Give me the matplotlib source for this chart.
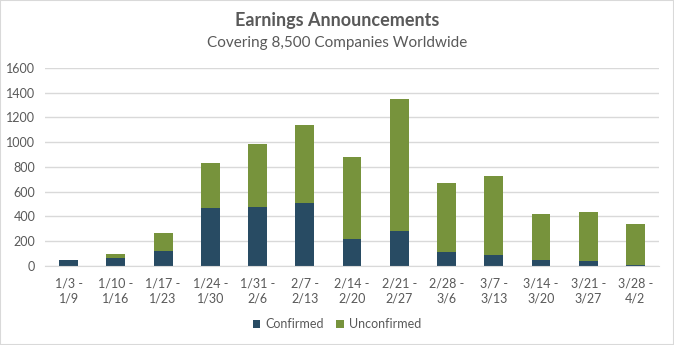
import numpy as np
import matplotlib.pyplot as plt

# data
weeks = ["1/3 -\n1/9", "1/10 -\n1/16", "1/17 -\n1/23", "1/24 -\n1/30", "1/31 -\n2/6",
         "2/7 -\n2/13", "2/14 -\n2/20", "2/21 -\n2/27", "2/28 -\n3/6", "3/7 -\n3/13",
         "3/14 -\n3/20", "3/21 -\n3/27", "3/28 -\n4/2"]
confirmed = [49, 67, 124, 472, 480, 512, 218, 283, 113, 89, 49, 40, 8]
unconfirmed = [0, 33, 146, 361, 507, 629, 664, 1068, 559, 639, 372, 397, 332]

navy = "#284b63"
green = "#77933c"
text_gray = "#595959"
grid_gray = "#d9d9d9"

plt.rcParams["font.family"] = ["Lato", "DejaVu Sans"]

fig = plt.figure(figsize=(6.74, 3.45), dpi=100)
ax = fig.add_axes([0.0668, 0.229, 0.911, 0.574])

index = np.arange(len(weeks))
bar_width = 0.4
ax.bar(index, confirmed, bar_width, color=navy, label="Confirmed", zorder=2)
ax.bar(index, unconfirmed, bar_width, bottom=confirmed, color=green,
       label="Unconfirmed", zorder=2)

ax.set_ylim(0, 1600)
ax.set_xlim(-0.5, len(weeks) - 0.5)
ax.set_yticks(np.arange(0, 1601, 200))
ax.yaxis.grid(True, color=grid_gray, linewidth=1, zorder=0)
ax.set_axisbelow(True)
for s in ["top", "right", "left"]:
    ax.spines[s].set_visible(False)
ax.spines["bottom"].set_color(grid_gray)
ax.tick_params(axis="both", length=0, colors=text_gray, labelsize=9)
ax.tick_params(axis="x", pad=8)
ax.tick_params(axis="y", pad=7)
ax.set_xticks(index)
ax.set_xticklabels(weeks, linespacing=1.3)

fig.text(0.5, 0.94, "Earnings Announcements", ha="center", va="center",
         fontsize=13, fontweight="bold", color=text_gray)
fig.text(0.5, 0.876, "Covering 8,500 Companies Worldwide", ha="center", va="center",
         fontsize=11, color=text_gray)

fig.legend(loc="center", bbox_to_anchor=(0.5, 0.06), ncol=2, frameon=False,
           fontsize=9, handlelength=0.6, handleheight=0.6, handletextpad=0.4,
           columnspacing=1.0, labelcolor=text_gray)

# outer border
fig.patches.append(plt.Rectangle((0, 0), 1, 1, transform=fig.transFigure,
                                 fill=False, edgecolor=grid_gray, linewidth=1.5))

fig.savefig("out.png", dpi=100)
